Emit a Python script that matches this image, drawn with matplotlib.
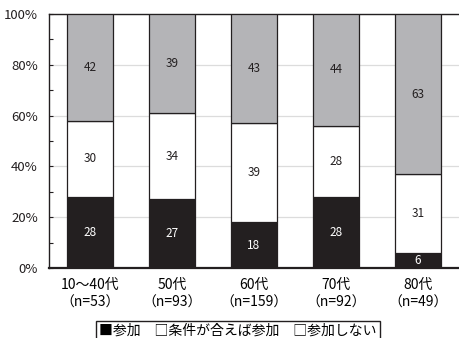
import matplotlib.pyplot as plt
import numpy as np

plt.rcParams["font.family"] = ["Noto Sans CJK JP", "DejaVu Sans"]

# 年代別の参加意向（%）
groups = ["10～40代\n（n=53）", "50代\n（n=93）", "60代\n（n=159）", "70代\n（n=92）", "80代\n（n=49）"]
join = [28, 27, 18, 28, 6]
conditional = [30, 34, 39, 28, 31]
not_join = [42, 39, 43, 44, 63]

series = [
    (join, "#231f20", "white"),
    (conditional, "white", "#231f20"),
    (not_join, "#b4b4b7", "#231f20"),
]

fig = plt.figure(figsize=(4.59, 3.38), dpi=100)
ax = fig.add_axes([49 / 459, 1 - 268 / 338, 410 / 459, 254 / 338])

x = np.arange(len(groups))
bottom = np.zeros(len(groups))
for values, color, text_color in series:
    vals = np.array(values, dtype=float)
    ax.bar(x, vals, width=0.555, bottom=bottom, color=color,
           edgecolor="#231f20", linewidth=0.9, zorder=3)
    for xi, b, v in zip(x, bottom, vals):
        ax.text(xi, b + v / 2, f"{int(v)}", ha="center", va="center",
                fontsize=8.5, color=text_color, zorder=4)
    bottom += vals

ax.set_xlim(-0.5, 4.5)
ax.set_ylim(0, 100)
ax.set_yticks(np.arange(0, 101, 20))
ax.set_yticklabels([f"{v}%" for v in range(0, 101, 20)], fontsize=9.5)
ax.set_yticks(np.arange(10, 100, 20), minor=True)
ax.tick_params(axis="y", which="both", direction="in", length=3, width=0.8,
               colors="#231f20", pad=8)
ax.tick_params(axis="x", length=0, labelsize=10, pad=7)
ax.set_xticks(x)
ax.set_xticklabels(groups, linespacing=1.4)
ax.grid(axis="y", color="#dcdcdc", linewidth=0.9, zorder=0)

ax.spines["right"].set_visible(False)
for side in ["left", "bottom", "top"]:
    ax.spines[side].set_color("#231f20")
ax.spines["left"].set_linewidth(1.0)
ax.spines["bottom"].set_linewidth(1.6)
ax.spines["top"].set_linewidth(1.0)

fig.text(238 / 459, 1 - 331 / 338, "■参加　□条件が合えば参加　□参加しない",
         ha="center", va="center", fontsize=10,
         bbox=dict(boxstyle="square,pad=0.25", facecolor="white",
                   edgecolor="#231f20", linewidth=1.0))

fig.savefig("out.png", dpi=100)
